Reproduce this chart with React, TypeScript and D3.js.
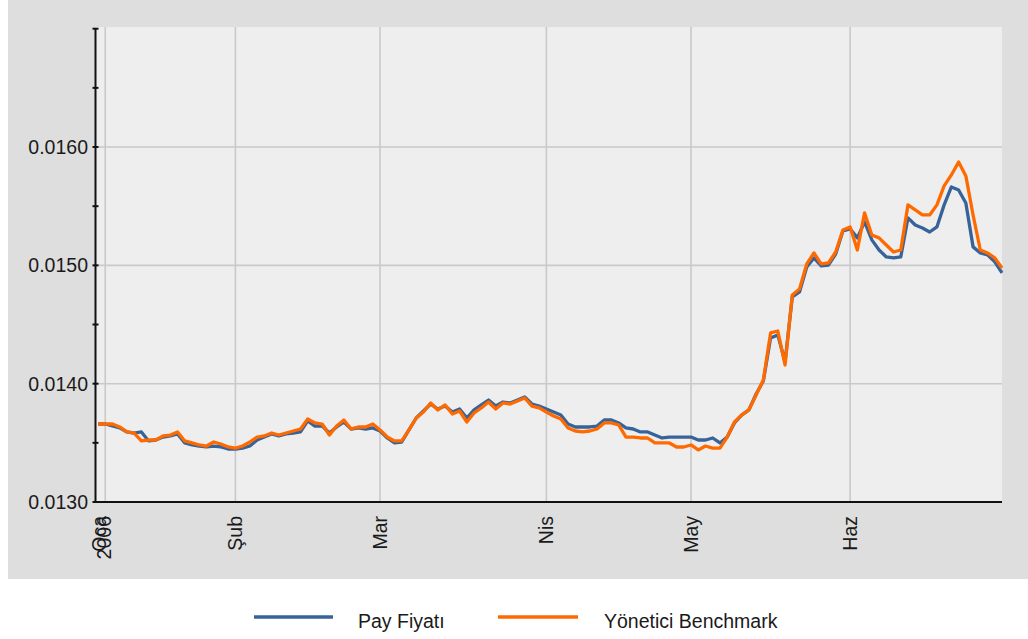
import * as d3 from "d3";

// one value per trading day, 30 Dec 2005 .. 30 Jun 2006
const payFiyati = [
  0.013659, 0.013659, 0.013642, 0.013626, 0.013592, 0.013583, 0.013592, 0.013516, 0.013524, 0.013549,
  0.013558, 0.013575, 0.013499, 0.013482, 0.013473, 0.013465, 0.013473, 0.013465, 0.013448, 0.013448,
  0.013456, 0.013473, 0.013524, 0.013549, 0.013575, 0.013558, 0.013575, 0.013583, 0.013592, 0.013685,
  0.013642, 0.013642, 0.013583, 0.013634, 0.013676, 0.013617, 0.013626, 0.013617, 0.013626, 0.0136,
  0.013541, 0.013499, 0.013507, 0.013609, 0.01371, 0.013769, 0.013828, 0.013786, 0.013811, 0.013761,
  0.013786, 0.01371, 0.013778, 0.01382, 0.013862, 0.013811, 0.013845, 0.013837, 0.013862, 0.013888,
  0.013828, 0.013811, 0.013786, 0.013761, 0.013735, 0.013659, 0.013634, 0.013634, 0.013634, 0.013642,
  0.013693, 0.013693, 0.013668, 0.013626, 0.013617, 0.013592, 0.013592, 0.013566, 0.013541, 0.013549,
  0.013549, 0.013549, 0.013549, 0.013524, 0.013524, 0.013541, 0.013499, 0.013549, 0.013668, 0.013735,
  0.013778, 0.013913, 0.014023, 0.014386, 0.014412, 0.014183, 0.014733, 0.014775, 0.014986, 0.015063,
  0.014995, 0.015003, 0.015096, 0.015291, 0.015308, 0.015232, 0.015367, 0.015215, 0.01513, 0.015071,
  0.015063, 0.015071, 0.015401, 0.015341, 0.015316, 0.015282, 0.015325, 0.015511, 0.015663, 0.015637,
  0.015527, 0.015156, 0.015105, 0.015088, 0.015029, 0.014936
];

const benchmark = [
  0.013659, 0.013659, 0.013659, 0.013634, 0.013592, 0.013583, 0.013516, 0.013524, 0.013524, 0.013558,
  0.013566, 0.013592, 0.013516, 0.013499, 0.013482, 0.013473, 0.013507, 0.01349, 0.013465, 0.013456,
  0.013473, 0.013507, 0.013549, 0.013558, 0.013583, 0.013566, 0.013583, 0.0136, 0.013617, 0.013702,
  0.013668, 0.013659, 0.013566, 0.013642, 0.013693, 0.013617, 0.013634, 0.013634, 0.013659, 0.013609,
  0.013549, 0.013516, 0.013516, 0.013609, 0.01371, 0.013761, 0.013837, 0.013778, 0.01382, 0.013744,
  0.013769, 0.013676, 0.013752, 0.013795, 0.013845, 0.013786, 0.013837, 0.013828, 0.013854, 0.013879,
  0.013811, 0.013795, 0.013761, 0.013727, 0.013702, 0.013626, 0.0136, 0.013592, 0.0136, 0.013617,
  0.013668, 0.013668, 0.013651, 0.013549, 0.013549, 0.013541, 0.013541, 0.013499, 0.013499, 0.013499,
  0.013465, 0.013465, 0.013482, 0.01344, 0.013473, 0.013456, 0.013456, 0.013549, 0.013676, 0.013735,
  0.013778, 0.013904, 0.014031, 0.014429, 0.014445, 0.014158, 0.01475, 0.0148, 0.015012, 0.015105,
  0.015012, 0.01502, 0.015113, 0.015299, 0.015325, 0.01513, 0.015443, 0.015257, 0.015232, 0.015172,
  0.015113, 0.01513, 0.015511, 0.015468, 0.015426, 0.015426, 0.015511, 0.015671, 0.015764, 0.015874,
  0.015756, 0.015426, 0.01513, 0.015105, 0.015063, 0.014978
];

// month labels and the trading-day index where each month starts
const months = ["Şub", "Mar", "Nis", "May", "Haz"];
const monthStart = [19, 39, 62, 82, 104];
const firstLabel = ["Oca", "2006"];
const firstIndex = 1;

const yTicks = [0.013, 0.014, 0.015, 0.016];
const yMinorTicks = d3.range(0.013, 0.01701, 0.0005);
const yDomain: [number, number] = [0.013, 0.017];

const seriesNames = ["Pay Fiyatı", "Yönetici Benchmark"];
const colors = ["#386398", "#ff6a00"];

const width = 1028;
const height = 639;
const plotLeft = 96;
const plotRight = 1002;
const plotTop = 27;
const plotBottom = 502;
const font = "'Liberation Sans', Arial, sans-serif";

export default function App() {
  const x = d3
    .scaleLinear()
    .domain([0, payFiyati.length - 1])
    .range([98, plotRight]);

  const y = d3.scaleLinear().domain(yDomain).range([plotBottom, 28.7]);

  const line = d3
    .line<number>()
    .x((_, i) => x(i))
    .y(d => y(d));

  const gridX = [firstIndex, ...monthStart];

  return (
    <svg
      width={width}
      height={height}
      style={{ position: "absolute", left: 0, top: 0, background: "#fff" }}
    >
      {/* outer panel */}
      <rect x={8} y={0} width={width - 8} height={579} fill="#dedede" />
      {/* plot area */}
      <rect
        x={plotLeft}
        y={plotTop}
        width={plotRight - plotLeft}
        height={plotBottom - plotTop}
        fill="#eeeeee"
      />

      {/* grid */}
      <g stroke="#c9c9c9" strokeWidth={1.6}>
        {yTicks.slice(1).map(t => (
          <line key={t} x1={plotLeft} x2={plotRight} y1={y(t)} y2={y(t)} />
        ))}
        {gridX.map(i => (
          <line key={i} x1={x(i)} x2={x(i)} y1={plotTop} y2={plotBottom} />
        ))}
      </g>

      {/* series */}
      <path d={line(payFiyati) || undefined} fill="none" stroke={colors[0]} strokeWidth={3.3} strokeLinejoin="round" />
      <path d={line(benchmark) || undefined} fill="none" stroke={colors[1]} strokeWidth={3.3} strokeLinejoin="round" />

      {/* axes */}
      <g stroke="#111" strokeWidth={2}>
        <line x1={95.5} x2={95.5} y1={28} y2={plotBottom + 1} />
        <line x1={95} x2={plotRight} y1={plotBottom} y2={plotBottom} />
        {yMinorTicks.map(t => (
          <line key={t} x1={92.5} x2={98.5} y1={y(t)} y2={y(t)} />
        ))}
      </g>

      {/* y labels */}
      <g fontFamily={font} fontSize={19.5} fill="#1a1a1a" textAnchor="end">
        {yTicks.map(t => (
          <text key={t} x={88} y={y(t)} dy="0.35em">
            {d3.format(".4f")(t)}
          </text>
        ))}
      </g>

      {/* x labels */}
      <g fontFamily={font} fontSize={19.5} fill="#1a1a1a" textAnchor="end">
        {firstLabel.map((s, k) => (
          <text
            key={s}
            transform={`translate(${x(firstIndex) - 6 + k * 5},516) rotate(-90)`}
            dy="0.35em"
          >
            {s}
          </text>
        ))}
        {months.map((m, k) => (
          <text
            key={m}
            transform={`translate(${x(monthStart[k])},516) rotate(-90)`}
            dy="0.35em"
          >
            {m}
          </text>
        ))}
      </g>

      {/* legend */}
      <g fontFamily={font} fontSize={19.5} fill="#1a1a1a">
        <line x1={254} x2={333} y1={617} y2={617} stroke={colors[0]} strokeWidth={3.3} />
        <text x={358} y={628}>{seriesNames[0]}</text>
        <line x1={498} x2={578} y1={617} y2={617} stroke={colors[1]} strokeWidth={3.3} />
        <text x={604} y={628}>{seriesNames[1]}</text>
      </g>
    </svg>
  );
}
